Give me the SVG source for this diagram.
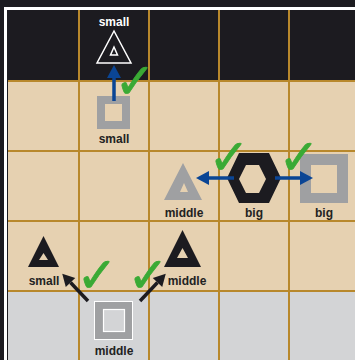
<svg xmlns="http://www.w3.org/2000/svg" width="355" height="360" viewBox="0 0 355 360">
<style>
.lbl{font-family:"Liberation Sans",Arial,sans-serif;font-size:12px;font-weight:bold;fill:#222;text-anchor:middle}
.lblw{fill:#fff}
.grid{stroke:#b8882c;stroke-width:2;fill:none}
.gray{fill:#9fa0a2;fill-rule:evenodd}
.blk{fill:#1c1b20;fill-rule:evenodd}
.chk{font-family:"DejaVu Sans",sans-serif;font-size:49px;fill:#3aaa35;stroke:#3aaa35;stroke-width:0.8}
.blue{stroke:#0a4595;stroke-width:3.5;fill:none}
.black{stroke:#1c1b20;stroke-width:3.5;fill:none}
</style>
<defs>
<marker id="ab" markerUnits="userSpaceOnUse" markerWidth="14" markerHeight="14" refX="0" refY="7" orient="auto" overflow="visible"><path d="M0,0 L13,7 L0,14 Z" fill="#0a4595"/></marker>
<marker id="ak" markerUnits="userSpaceOnUse" markerWidth="14" markerHeight="14" refX="0" refY="6.5" orient="auto" overflow="visible"><path d="M0,0 L12,6.5 L0,13 Z" fill="#1c1b20"/></marker>
</defs>
<g id="background">
<rect x="0" y="0" width="355" height="360" fill="#1c1b20"/>
<rect x="4" y="7" width="351" height="353" fill="#ffffff"/>
<rect x="7" y="10" width="348" height="350" fill="#1c1b20"/>
<rect x="8" y="81" width="347" height="210" fill="#e6d1b1"/>
<rect x="8" y="291" width="347" height="69" fill="#d3d4d6"/>
<path class="grid" d="M79,10V360M149,10V360M219,10V360M289,10V360M8,81H355M8,151H355M8,221H355M8,291H355"/>
</g>
<g id="n-small-top">
<polygon points="114,31 97,63 131,63" fill="#1c1b20" stroke="#ffffff" stroke-width="1.5"/>
<polygon points="114,47 110.5,55 117.5,55" fill="none" stroke="#ffffff" stroke-width="1.5"/>
<text class="lbl lblw" x="114" y="26">small</text>
</g>
<g id="n-small-square">
<path class="gray" d="M97,96H130V129H97ZM105,104V121H122V104Z"/>
<text class="lbl" x="114" y="143">small</text>
</g>
<g id="n-middle-gray-tri">
<path class="gray" d="M183,163L164,200H202ZM184,183L180,192H188Z"/>
<text class="lbl" x="184" y="217">middle</text>
</g>
<g id="n-big-hex">
<path class="blk" d="M227,178L239,153H269L281,178L269,203H239ZM239,179L246,165H259L266,179L259,193H246Z"/>
<text class="lbl" x="254" y="217">big</text>
</g>
<g id="n-big-square">
<path class="gray" d="M300,154H348V203H300ZM311,165V193H337V165Z"/>
<text class="lbl" x="324" y="217">big</text>
</g>
<g id="n-small-black-tri">
<path class="blk" d="M43.5,236L28,267H59ZM43.5,253L39,260H48Z"/>
<text class="lbl" x="44" y="285">small</text>
</g>
<g id="n-middle-black-tri">
<path class="blk" d="M182.5,230L164,267H201ZM182.5,248L177,258H188Z"/>
<text class="lbl" x="187" y="285">middle</text>
</g>
<g id="n-middle-square">
<rect x="94.5" y="301.5" width="38" height="38" fill="#9fa0a2" stroke="#ffffff" stroke-width="1"/>
<rect x="103.5" y="309.5" width="21" height="22" fill="#d3d4d6" stroke="#ffffff" stroke-width="1.2"/>
<text class="lbl" x="114" y="355">middle</text>
</g>
<g id="connectors">
<line class="blue" x1="114" y1="101" x2="114" y2="78" marker-end="url(#ab)"/>
<line class="blue" x1="234" y1="178" x2="209" y2="178" marker-end="url(#ab)"/>
<line class="blue" x1="275" y1="178" x2="300" y2="178" marker-end="url(#ab)"/>
<line class="black" x1="88" y1="301" x2="70.5" y2="282.5" marker-end="url(#ak)"/>
<line class="black" x1="140" y1="301" x2="157.5" y2="282.5" marker-end="url(#ak)"/>
</g>
<g id="checks">
<text class="chk" x="114.5" y="98">✓</text>
<text class="chk" x="208.5" y="174">✓</text>
<text class="chk" x="278.5" y="174">✓</text>
<text class="chk" x="76.5" y="292">✓</text>
<text class="chk" x="127.5" y="292">✓</text>
</g>
</svg>
